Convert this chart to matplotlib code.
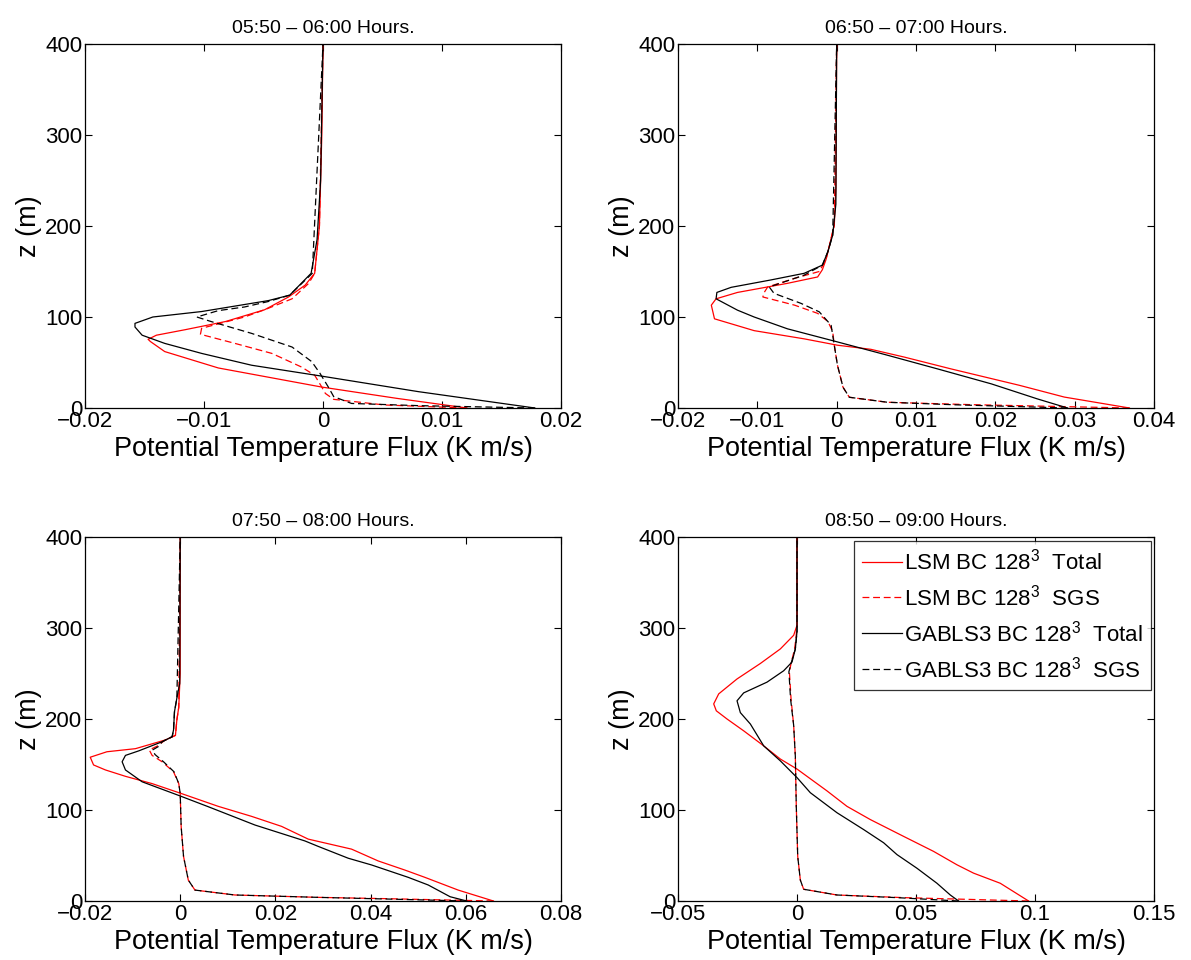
import matplotlib
matplotlib.use("Agg")
import matplotlib.pyplot as plt
from matplotlib.ticker import FixedLocator, FixedFormatter

plt.rcParams['font.family'] = ['Liberation Sans', 'DejaVu Sans']
plt.rcParams['mathtext.fontset'] = 'custom'
plt.rcParams['mathtext.rm'] = 'Liberation Sans'
plt.rcParams['mathtext.default'] = 'regular'
plt.rcParams['axes.unicode_minus'] = True

# ---------------- data ----------------
titles = ["05:50 \u2013 06:00 Hours.", "06:50 \u2013 07:00 Hours.",
          "07:50 \u2013 08:00 Hours.", "08:50 \u2013 09:00 Hours."]
series_labels = ["LSM BC 128$^3$  Total", "LSM BC 128$^3$  SGS",
                 "GABLS3 BC 128$^3$  Total", "GABLS3 BC 128$^3$  SGS"]
xlabel_text = "Potential Temperature Flux (K m/s)"
ylabel_text = "z (m)"

x_ticks = [[-0.02, -0.01, 0, 0.01, 0.02],
           [-0.02, -0.01, 0, 0.01, 0.02, 0.03, 0.04],
           [-0.02, 0, 0.02, 0.04, 0.06, 0.08],
           [-0.05, 0, 0.05, 0.1, 0.15]]
x_tick_labels = [["\u22120.02", "\u22120.01", "0", "0.01", "0.02"],
                 ["\u22120.02", "\u22120.01", "0", "0.01", "0.02", "0.03", "0.04"],
                 ["\u22120.02", "0", "0.02", "0.04", "0.06", "0.08"],
                 ["\u22120.05", "0", "0.05", "0.1", "0.15"]]
y_ticks = [0, 100, 200, 300, 400]

# Panel 1 (05:50-06:00)
p1_lsm_tot_z = [0, 10.6, 23, 44, 62, 73, 75.5, 80, 86, 95, 108, 122, 135, 148, 200, 300, 400]
p1_lsm_tot_f = [0.0121, 0.0062, -0.0001, -0.0088, -0.0133, -0.0145, -0.0147, -0.0140, -0.0116,
                -0.0082, -0.0049, -0.0029, -0.0015, -0.0007, -0.0003, -0.0001, 0.0]
p1_lsm_sgs_z = [0, 3.3, 9.5, 16, 23, 36, 45, 60, 71, 81, 87.6, 100, 108, 120, 137, 148, 200, 400]
p1_lsm_sgs_f = [0.0121, 0.0052, 0.0009, 0.0002, -0.0001, -0.0007, -0.0018, -0.0043, -0.0074,
                -0.0103, -0.0102, -0.0066, -0.0049, -0.0026, -0.0012, -0.0007, -0.0003, 0.0]
p1_gab_tot_z = [0, 18, 35, 47, 60, 71, 80, 89, 93, 100, 106, 118, 124, 148, 185, 250, 400]
p1_gab_tot_f = [0.0178, 0.0080, -0.0001, -0.0060, -0.0102, -0.0133, -0.0152, -0.0158, -0.0158,
                -0.0143, -0.0102, -0.0046, -0.0028, -0.0010, -0.0005, -0.0002, 0.0]
p1_gab_sgs_z = [0, 2.6, 5, 12.5, 23, 38, 51, 67, 82, 95, 100, 107, 111, 117, 124, 148, 400]
p1_gab_sgs_f = [0.0178, 0.0080, 0.0024, 0.0009, 0.00045, -0.00025, -0.00095, -0.0026, -0.0060,
                -0.0094, -0.0106, -0.0088, -0.0066, -0.0046, -0.0028, -0.0009, 0.0]

# Panel 2 (06:50-07:00)
p2_lsm_tot_z = [0, 12, 25, 43, 56, 64.5, 69, 76, 85, 98, 113, 120, 127, 137, 144, 152, 163,
                179, 201, 242, 400]
p2_lsm_tot_f = [0.0369, 0.0287, 0.0230, 0.0144, 0.0085, 0.0043, 0.0001, -0.0041, -0.0104,
                -0.0154, -0.0158, -0.0152, -0.0125, -0.0062, -0.0024, -0.0018, -0.00135,
                -0.0009, -0.0003, -0.0001, 0.0]
p2_lsm_sgs_z = [0, 3.7, 6.3, 11.8, 22.8, 47, 69, 84, 95, 104, 113, 122, 126, 133, 142.5, 150,
                163, 179, 201, 400]
p2_lsm_sgs_f = [0.0369, 0.0169, 0.0064, 0.0016, 0.0008, 0.0001, -0.0003, -0.0005, -0.0011,
                -0.0024, -0.0053, -0.0093, -0.0092, -0.0087, -0.0053, -0.0022, -0.00135,
                -0.0009, -0.0003, 0.0]
p2_gab_tot_z = [0, 10, 26.5, 43, 58, 72.6, 87, 100, 107.5, 120, 127, 132.6, 140.7, 148, 157,
                172, 190, 224, 400]
p2_gab_tot_f = [0.0291, 0.0253, 0.0195, 0.0127, 0.0064, 0.0001, -0.0062, -0.0104, -0.0125,
                -0.0152, -0.0151, -0.0133, -0.0083, -0.0041, -0.0018, -0.0011, -0.0005,
                -0.0001, 0.0]
p2_gab_sgs_z = [0, 3.5, 6.3, 11.8, 22.8, 47, 69, 91, 105.7, 115, 126, 133, 146, 157, 172, 190, 400]
p2_gab_sgs_f = [0.0291, 0.0150, 0.0064, 0.0016, 0.0008, 0.0001, -0.0003, -0.0007, -0.0022,
                -0.0045, -0.0079, -0.0085, -0.0041, -0.0018, -0.0011, -0.0005, 0.0]

# Panel 3 (07:50-08:00)
p3_lsm_tot_z = [0, 12, 26, 34, 44, 57, 68, 82, 93, 104, 118, 129, 137, 144, 149.5, 158, 164,
                167.4, 177, 182, 199, 213, 250, 400]
p3_lsm_tot_f = [0.0658, 0.0584, 0.0514, 0.0472, 0.0416, 0.0360, 0.0269, 0.0213, 0.0150, 0.0080,
                0.0003, -0.0059, -0.0115, -0.0157, -0.0182, -0.0189, -0.0154, -0.0094, -0.0031,
                -0.0010, -0.0007, -0.0003, 0.0, 0.0]
p3_lsm_sgs_z = [0, 2.6, 4, 6.6, 12, 23, 49, 82, 118, 129, 142, 153, 160, 166, 170, 177, 182,
                199, 213, 400]
p3_lsm_sgs_f = [0.0658, 0.043, 0.029, 0.0115, 0.0031, 0.0017, 0.0007, 0.0002, 0.0, -0.0003,
                -0.0014, -0.0038, -0.0059, -0.0065, -0.0049, -0.0031, -0.0010, -0.0007,
                -0.0003, 0.0]
p3_gab_tot_z = [0, 4.7, 17.6, 26, 39.6, 47, 60, 66, 83.5, 103.6, 115.4, 131, 144, 153, 160, 165,
                175, 180.5, 188, 208, 223, 239, 400]
p3_gab_tot_f = [0.0602, 0.0567, 0.0521, 0.0479, 0.0402, 0.0353, 0.0290, 0.0262, 0.0157, 0.0059,
                0.0, -0.0080, -0.0115, -0.0122, -0.0115, -0.0087, -0.0038, -0.0017, -0.0014,
                -0.0012, -0.0007, -0.0001, 0.0]
p3_gab_sgs_z = [0, 2.6, 4, 6.6, 12, 23, 49, 82, 118, 129, 142, 153, 161, 166, 170, 175, 180.5,
                188, 208, 223, 400]
p3_gab_sgs_f = [0.0602, 0.040, 0.029, 0.0115, 0.0031, 0.0017, 0.0007, 0.0002, 0.0, -0.0003,
                -0.0013, -0.0035, -0.0053, -0.0058, -0.0045, -0.0038, -0.0017, -0.0014,
                -0.0012, -0.0007, 0.0]

# Panel 4 (08:50-09:00)
p4_lsm_tot_z = [0, 19.5, 30.6, 39.8, 54.5, 71, 89.5, 104, 121, 145, 156, 170.5, 187, 200, 209,
                216.6, 227.6, 244, 261, 277, 292, 303, 400]
p4_lsm_tot_f = [0.0973, 0.0854, 0.0742, 0.0672, 0.0574, 0.0448, 0.0308, 0.0210, 0.0126, 0.0,
                -0.0070, -0.0140, -0.0224, -0.0294, -0.0339, -0.0350, -0.0329, -0.0252,
                -0.0154, -0.0070, -0.0014, 0.0, 0.0]
p4_lsm_sgs_z = [0, 3.7, 6.6, 12.9, 23, 49, 104, 159, 193, 222, 252, 261, 277, 290, 303, 400]
p4_lsm_sgs_f = [0.0973, 0.0448, 0.0168, 0.0028, 0.0014, 0.0003, -0.0003, -0.0007, -0.0014,
                -0.0025, -0.0032, -0.0025, -0.0010, -0.0004, 0.0, 0.0]
p4_gab_tot_z = [0, 6.6, 19.5, 36, 51, 64, 78.5, 97, 119, 135.6, 154, 170.5, 194.5, 207, 220,
                228.7, 240.5, 253, 262.6, 277, 296, 400]
p4_gab_tot_f = [0.0679, 0.0644, 0.0588, 0.0504, 0.0420, 0.0364, 0.0280, 0.0168, 0.0056, 0.0,
                -0.0070, -0.0140, -0.0196, -0.0238, -0.0252, -0.0224, -0.0126, -0.0056,
                -0.0021, -0.0007, 0.0, 0.0]
p4_gab_sgs_z = [0, 3.7, 6.6, 12.9, 23, 49, 104, 159, 193, 222, 252, 261, 277, 296, 400]
p4_gab_sgs_f = [0.0679, 0.0420, 0.0168, 0.0028, 0.0014, 0.0003, -0.0003, -0.0007, -0.0014,
                -0.0027, -0.0034, -0.0025, -0.0007, 0.0, 0.0]

panels = [
    [(p1_lsm_tot_f, p1_lsm_tot_z), (p1_lsm_sgs_f, p1_lsm_sgs_z),
     (p1_gab_tot_f, p1_gab_tot_z), (p1_gab_sgs_f, p1_gab_sgs_z)],
    [(p2_lsm_tot_f, p2_lsm_tot_z), (p2_lsm_sgs_f, p2_lsm_sgs_z),
     (p2_gab_tot_f, p2_gab_tot_z), (p2_gab_sgs_f, p2_gab_sgs_z)],
    [(p3_lsm_tot_f, p3_lsm_tot_z), (p3_lsm_sgs_f, p3_lsm_sgs_z),
     (p3_gab_tot_f, p3_gab_tot_z), (p3_gab_sgs_f, p3_gab_sgs_z)],
    [(p4_lsm_tot_f, p4_lsm_tot_z), (p4_lsm_sgs_f, p4_lsm_sgs_z),
     (p4_gab_tot_f, p4_gab_tot_z), (p4_gab_sgs_f, p4_gab_sgs_z)],
]

# ---------------- styles ----------------
colors = ['#ff0000', '#ff0000', '#000000', '#000000']
styles = ['-', '--', '-', '--']

fig = plt.figure(figsize=(11.91, 9.60), dpi=100)
W, H = 1191.0, 960.0
boxes = [(85, 44, 561, 408), (678, 44, 1154, 408),
         (85, 537, 561, 901), (678, 537, 1154, 901)]

tick_fs = 16
for i, (l, t, r, b) in enumerate(boxes):
    ax = fig.add_axes([l / W, 1 - b / H, (r - l) / W, (b - t) / H])
    handles = []
    for j, (f, z) in enumerate(panels[i]):
        ln, = ax.plot(f, z, color=colors[j], linestyle=styles[j], linewidth=0.9,
                      label=series_labels[j])
        if styles[j] == '--':
            ln.set_dashes((5.5, 3.0))
        handles.append(ln)
    ax.set_xlim(x_ticks[i][0], x_ticks[i][-1])
    ax.set_ylim(0, 400)
    ax.xaxis.set_major_locator(FixedLocator(x_ticks[i]))
    ax.xaxis.set_major_formatter(FixedFormatter(x_tick_labels[i]))
    ax.yaxis.set_major_locator(FixedLocator(y_ticks))
    ax.tick_params(direction='in', top=True, right=True, length=5, width=0.8,
                   labelsize=tick_fs, pad=2)
    for s in ax.spines.values():
        s.set_linewidth(0.9)
    ax.set_title(titles[i], fontsize=14, pad=8)
    ax.set_xlabel(xlabel_text, fontsize=19.5, labelpad=3)
    ax.set_ylabel(ylabel_text, fontsize=19.5, labelpad=2)
    if i == 3:
        leg = ax.legend(handles=handles, loc='upper right', bbox_to_anchor=(0.993, 0.99),
                        borderaxespad=0, fontsize=tick_fs, frameon=True, fancybox=False,
                        edgecolor='black', handlelength=1.8, handletextpad=0.1,
                        labelspacing=0.45, borderpad=0.35)
        leg.get_frame().set_linewidth(0.9)

fig.savefig("out.png", dpi=100)
